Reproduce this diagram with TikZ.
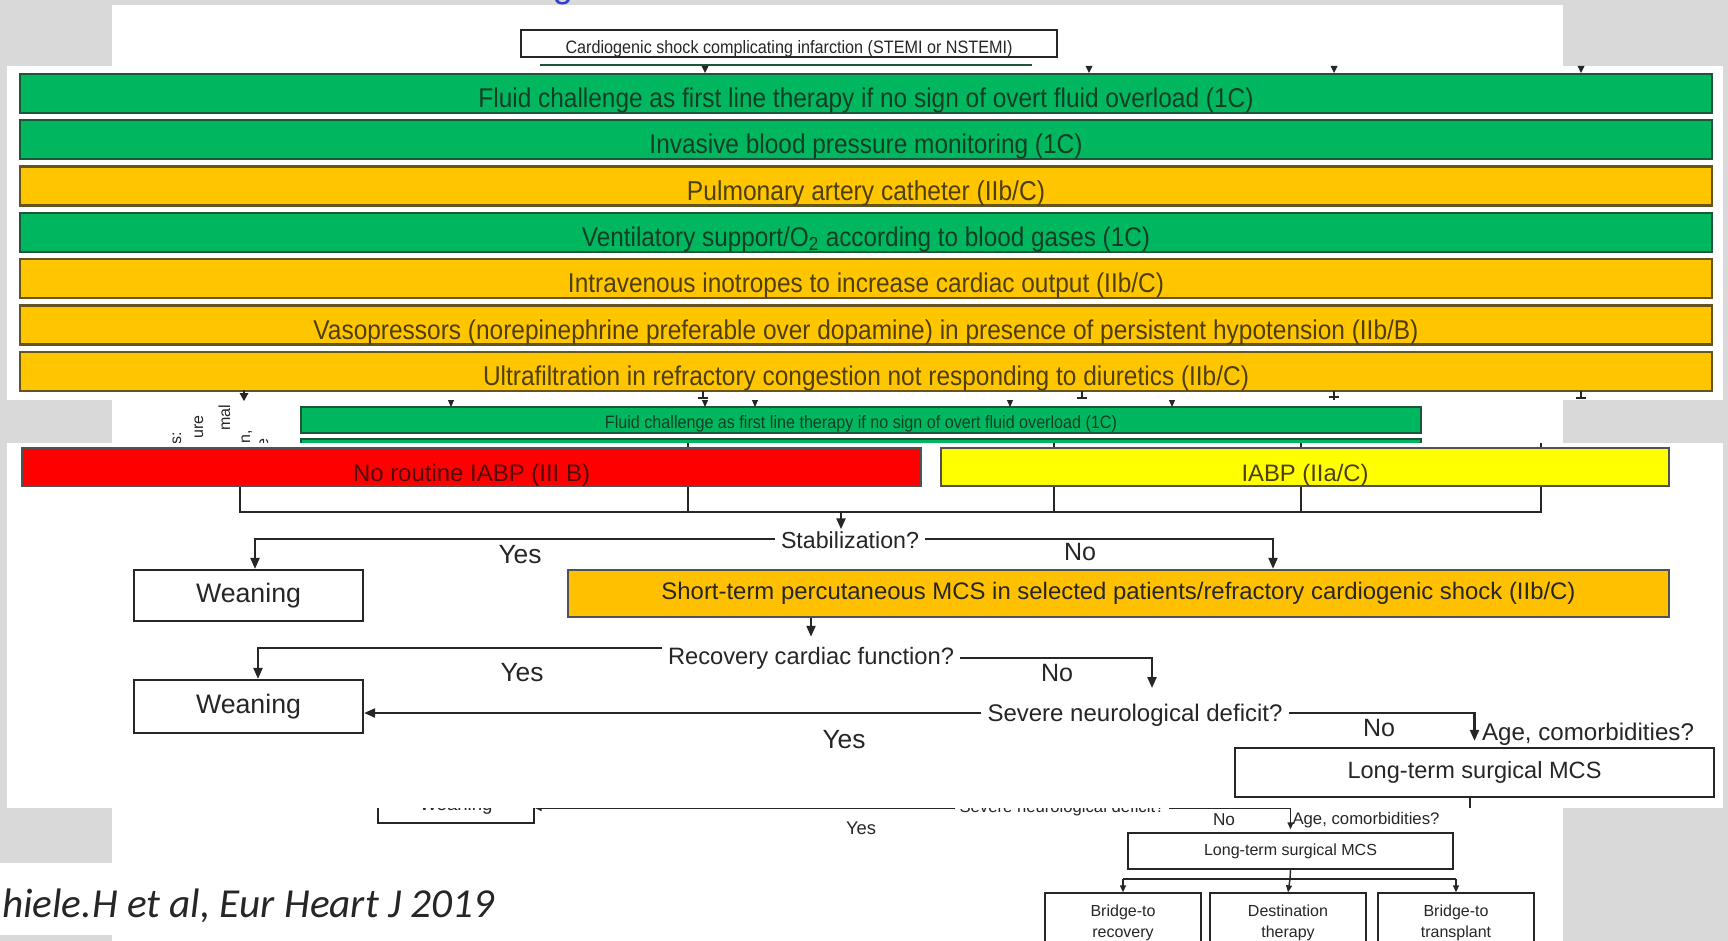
\documentclass[tikz,border=0pt]{standalone}
\usepackage{graphicx}
\usepackage{fontspec}
\setmainfont{Liberation Sans}
\newfontfamily\narrowfont[FakeStretch=0.9]{Liberation Sans}
\newfontfamily\citefont{Carlito}
\usetikzlibrary{arrows.meta,calc}

\definecolor{bggray}{RGB}{217,217,217}
\definecolor{gbar}{RGB}{0,183,96}
\definecolor{gline}{RGB}{30,86,58}
\definecolor{gtext}{RGB}{18,62,36}
\definecolor{ybar}{RGB}{255,198,0}
\definecolor{yline}{RGB}{100,84,30}
\definecolor{ytext}{RGB}{78,62,8}
\definecolor{rbar}{RGB}{255,0,0}
\definecolor{rtext}{RGB}{80,10,10}
\definecolor{lbar}{RGB}{255,255,0}
\definecolor{obar}{RGB}{255,192,0}
\definecolor{ink}{RGB}{38,38,38}
\definecolor{titleblue}{RGB}{45,65,210}

% fit a text to a given width (in pt)
\newcommand\fw[2]{\resizebox{#1pt}{!}{#2}}

\begin{document}
\begin{tikzpicture}[x=1pt,y=-1pt,
  base/.style={inner sep=0pt, text=ink, font=\fontsize{20}{24}\selectfont},
  lbl/.style={base, inner xsep=6pt, inner ysep=1pt},
  stxt/.style={base, font=\fontsize{16}{19}\selectfont},
  bar/.style={rectangle, draw=#1, line width=2.4pt, inner sep=0pt, text=ink,
              font=\fontsize{20}{24}\selectfont},
  tbar/.style={bar=#1, minimum width=1692, minimum height=39, font=\narrowfont\fontsize{20}{24}\selectfont,
               text height=28pt, text depth=0pt},
  box/.style={rectangle, draw=ink, line width=2.2pt, fill=white, inner sep=0pt,
              text=ink, font=\fontsize{20}{24}\selectfont},
  sbox/.style={box, line width=1.4pt},
  ln/.style={draw=ink, line width=2.2pt},
  arr/.style={ln, -{Triangle[length=11pt,width=9pt]}},
  sln/.style={draw=ink, line width=1.4pt},
  sarr/.style={sln, -{Triangle[length=7pt,width=6pt]}},
]
\useasboundingbox (0,0) rectangle (1728,941);
\clip (0,0) rectangle (1728,941);
\fill[bggray] (0,0) rectangle (1728,941);

% ---------------- rear sheet ----------------
\fill[white] (112,5) rectangle (1563,941);
\node[anchor=base, inner sep=0pt, text=titleblue, font=\fontsize{36}{40}\selectfont] (ttl) at (563,-2) {g};

\node[sbox, minimum width=536, minimum height=27, font=\narrowfont\fontsize{16}{19}\selectfont,
      text height=20pt, text depth=0pt] (cs) at (789,43.5)
  {\fw{447}{Cardiogenic shock complicating infarction (STEMI or NSTEMI)}};
\draw[gline, line width=1.5pt] (540,65) -- (1032,65);

\node[bar=gline, fill=gbar, line width=1.6pt, minimum width=1120, minimum height=26, text=gtext,
      font=\narrowfont\fontsize{16}{19}\selectfont, text height=16pt, text depth=0pt] (sg1) at (861,420)
  {\fw{512}{Fluid challenge as first line therapy if no sign of overt fluid overload (1C)}};
\node[bar=gline, fill=gbar, line width=1.6pt, minimum width=1120, minimum height=26] (sg2) at (861,452) {};
\foreach \xx in {451,705,755,1010,1172}
  \draw[sarr, line width=1pt] (\xx,392) -- (\xx,407);

\begin{scope}[every node/.style={stxt, rotate=90, anchor=base east}]
  \node (rf1) at (181,432) {s:};
  \node (rf2) at (203,415) {ure};
  \node (rf3) at (230,405) {mal};
  \node (rf4) at (250,430) {n,};
  \node (rf5) at (268,438) {e};
\end{scope}

% lower part of the rear sheet
\node[sbox, minimum width=156, minimum height=34] (sw) at (456,806) {\fw{73}{Weaning}};
\node[stxt, inner xsep=4pt] (ssev) at (1062,808) {\fw{205}{Severe neurological deficit?}};
\draw[sarr] (ssev.west) -- (ssev.west -| sw.east);
\node[stxt] (syes) at (861,828) {\fw{30}{Yes}};
\node[sbox, minimum width=325, minimum height=36] (slt) at (1290.5,851) {\fw{173}{Long-term surgical MCS}};
\draw[sarr] (ssev.east) -| ([yshift=3pt]slt.north);
\node[stxt] (sno) at (1224,820) {\fw{22}{No}};
\node[stxt] (sage) at (1366,820) {\fw{147}{Age, comorbidities?}};
\node[sbox, minimum width=156, minimum height=56] (br) at (1123,921) {};
\node[sbox, minimum width=156, minimum height=56] (dt) at (1288,921) {};
\node[sbox, minimum width=156, minimum height=56] (bt) at (1456,921) {};
\node[stxt, align=center, font=\fontsize{16}{21}\selectfont] (brt) at (1123,923) {Bridge-to\\recovery};
\node[stxt, align=center, font=\fontsize{16}{21}\selectfont] (dtt) at (1288,923) {Destination\\therapy};
\node[stxt, align=center, font=\fontsize{16}{21}\selectfont] (btt) at (1456,923) {Bridge-to\\transplant};
\coordinate (sj) at (1290,879);
\draw[sln] (slt.south) -- (sj);
\draw[sln] (br.north |- sj) -- (bt.north |- sj);
\draw[sarr] (br.north |- sj) -- (br.north);
\draw[sarr] (sj) -- (dt.north);
\draw[sarr] (bt.north |- sj) -- (bt.north);

% citation strip
\fill[white] (0,863) rectangle (112,935);
\node[anchor=base west, inner sep=0pt, text=ink, font=\citefont\itshape\fontsize{28}{32}\selectfont] (cite)
  at (2,917) {\fw{492}{hiele.H et al, Eur Heart J 2019}};

% ---------------- upper sheet ----------------
\fill[white] (7,66) rectangle (1723,400);
\foreach \xx in {705,1089,1334,1581}
  \fill[ink] (\xx-3.5,66) -- (\xx+3.5,66) -- (\xx,73) -- cycle;

\node[tbar=gline, fill=gbar, text=gtext] (b1) at (866,93.5)
  {\fw{775}{Fluid challenge as first line therapy if no sign of overt fluid overload (1C)}};
\node[tbar=gline, fill=gbar, text=gtext] (b2) at (866,139.8)
  {\fw{433}{Invasive blood pressure monitoring (1C)}};
\node[tbar=yline, fill=ybar, text=ytext] (b3) at (866,186.1)
  {\fw{358}{Pulmonary artery catheter (IIb/C)}};
\node[tbar=gline, fill=gbar, text=gtext] (b4) at (866,232.4)
  {\fw{568}{Ventilatory support/O\textsubscript{2} according to blood gases (1C)}};
\node[tbar=yline, fill=ybar, text=ytext] (b5) at (866,278.7)
  {\fw{596}{Intravenous inotropes to increase cardiac output (IIb/C)}};
\node[tbar=yline, fill=ybar, text=ytext] (b6) at (866,325.0)
  {\fw{1105}{Vasopressors (norepinephrine preferable over dopamine) in presence of persistent hypotension (IIb/B)}};
\node[tbar=yline, fill=ybar, text=ytext] (b7) at (866,371.3)
  {\fw{766}{Ultrafiltration in refractory congestion not responding to diuretics (IIb/C)}};

% connector stubs leaving the last bar
\draw[ln, line width=1.4pt] (244,390) -- (244,400);
\fill[ink] (239.5,393) -- (248.5,393) -- (244,401) -- cycle;
\foreach \xx in {703,1082,1581}{
  \draw[ln, line width=1.4pt] (\xx,391) -- (\xx,398);
  \draw[ln, line width=1.4pt] (\xx-5,398) -- (\xx+5,398);
}
\draw[ln, line width=1.4pt] (1334,391) -- (1334,400);
\draw[ln, line width=1.4pt] (1329,397) -- (1339,397);

% ---------------- lower sheet ----------------
\fill[white] (7,443) rectangle (1723,808);
\foreach \xx in {688,1054,1301,1541}
  \draw[ln, line width=1.6pt] (\xx,443) -- (\xx,448);

\node[bar=ink!80, fill=rbar, text=rtext, minimum width=899, minimum height=38,
      text height=28pt, text depth=0pt] (nrb) at (471.5,467)
  {\fw{237}{No routine IABP (III B)}};
\node[bar=ink!80, fill=lbar, text=ytext, minimum width=728, minimum height=38,
      text height=28pt, text depth=0pt] (iabp) at (1305,467)
  {\fw{127}{IABP (IIa/C)}};

\coordinate (ja) at (240,512);
\coordinate (jb) at (688,512);
\coordinate (jc) at (1054,512);
\coordinate (jd) at (1301,512);
\coordinate (je) at (1541,512);
\coordinate (jm) at (841,512);
\draw[ln] (nrb.south -| ja) -- (ja) -- (je) -- (iabp.south -| je);
\draw[ln] (nrb.south -| jb) -- (jb);
\draw[ln] (iabp.south -| jc) -- (jc);
\draw[ln] (iabp.south -| jd) -- (jd);

\node[lbl] (stab) at (850,540) {\fw{138}{Stabilization?}};
\draw[arr, shorten >=1pt] (jm) -- (stab.north -| jm);

\node[box, minimum width=229, minimum height=51] (w1) at (248.5,595.5) {\fw{105}{Weaning}};
\node[bar=ink!80, fill=obar, minimum width=1101, minimum height=47] (mcs) at (1118.5,593.5)
  {\fw{914}{Short-term percutaneous MCS in selected patients/refractory cardiogenic shock (IIb/C)}};
\coordinate (sn) at (1273,0);
\draw[arr] ([yshift=1pt]stab.west) -| ([xshift=6.5pt]w1.north);
\draw[arr] ([yshift=1pt]stab.east) -| (mcs.north -| sn);
\node[base] (yes1) at (520,555) {\fw{43}{Yes}};
\node[base] (no1) at (1080,552) {\fw{32}{No}};

\node[lbl] (rec) at (811,658) {\fw{286}{Recovery cardiac function?}};
\draw[arr, shorten >=9pt] (mcs.south -| rec.north) -- (rec.north);
\node[box, minimum width=229, minimum height=53] (w2) at (248.5,706.5) {\fw{105}{Weaning}};
\draw[arr] ([yshift=10pt]rec.west) -| ([xshift=9.5pt]w2.north);
\coordinate (rn) at (1152,688);
\draw[arr] (rec.east) -| (rn);
\node[base] (yes2) at (522,673) {\fw{43}{Yes}};
\node[base] (no2) at (1057,673) {\fw{32}{No}};

\node[lbl] (sev) at (1135,715) {\fw{295}{Severe neurological deficit?}};
\draw[arr] ([yshift=2pt]sev.west) -- ([yshift=2pt]sev.west -| w2.east);
\node[box, minimum width=479, minimum height=49] (lt) at (1474.5,772.5) {\fw{254}{Long-term surgical MCS}};
\draw[arr, shorten >=6pt] ([yshift=2pt]sev.east) -| (lt.north);
\node[base] (yes3) at (844,740) {\fw{43}{Yes}};
\node[base] (no3) at (1379,728) {\fw{32}{No}};
\node[base] (age) at (1588,734) {\fw{212}{Age, comorbidities?}};
\coordinate (lc) at (1470,808);
\draw[ln] (lt.south -| lc) -- (lc);

\end{tikzpicture}
\end{document}
